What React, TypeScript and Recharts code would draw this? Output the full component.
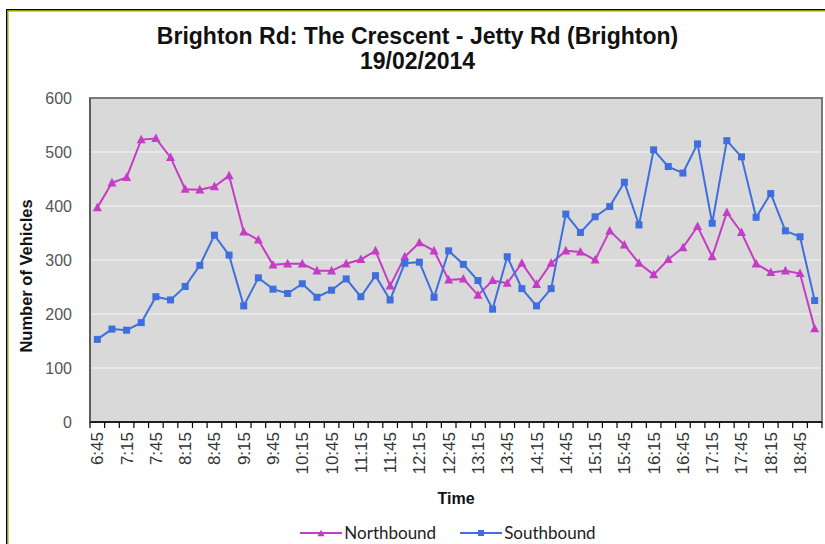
import React from 'react'
import { CartesianGrid, Label, Legend, Line, LineChart, ReferenceArea, XAxis, YAxis } from 'recharts'

const times = [
  '6:45', '7:00', '7:15', '7:30', '7:45', '8:00', '8:15', '8:30', '8:45', '9:00',
  '9:15', '9:30', '9:45', '10:00', '10:15', '10:30', '10:45', '11:00', '11:15', '11:30',
  '11:45', '12:00', '12:15', '12:30', '12:45', '13:00', '13:15', '13:30', '13:45', '14:00',
  '14:15', '14:30', '14:45', '15:00', '15:15', '15:30', '15:45', '16:00', '16:15', '16:30',
  '16:45', '17:00', '17:15', '17:30', '17:45', '18:00', '18:15', '18:30', '18:45', '19:00',
]

const northbound = [
  397, 443, 453, 523, 525, 490, 431, 430, 436, 456,
  352, 337, 291, 293, 293, 280, 280, 293, 301, 317,
  252, 306, 332, 317, 263, 265, 235, 262, 257, 294,
  255, 294, 317, 315, 300, 354, 328, 294, 273, 301,
  323, 362, 306, 388, 351, 293, 277, 280, 275, 173,
]

const southbound = [
  153, 172, 170, 184, 232, 226, 251, 290, 346, 309,
  215, 267, 246, 238, 256, 231, 244, 265, 232, 271,
  226, 294, 296, 231, 317, 292, 262, 209, 306, 247,
  215, 247, 385, 351, 380, 399, 444, 365, 504, 473,
  461, 515, 368, 521, 491, 379, 423, 354, 343, 225,
]

const yTicks = [0, 100, 200, 300, 400, 500, 600]

const data = times.map((time, i) => ({
  time,
  northbound: northbound[i],
  southbound: southbound[i],
}))

const NORTH = '#c53cc5'
const SOUTH = '#3f6fdc'
const FONT = '"Liberation Sans", Arial, sans-serif'

const Triangle = ({ cx, cy, size = 9, fill }: any) => (
  <path
    d={`M${cx},${cy - size * 0.55} L${cx + size / 2},${cy + size * 0.4} L${cx - size / 2},${cy + size * 0.4} Z`}
    fill={fill}
  />
)

const Square = ({ cx, cy, size = 7, fill }: any) => (
  <rect x={cx - size / 2} y={cy - size / 2} width={size} height={size} fill={fill} />
)

const TimeTick = (props: any) => {
  const { x, y, payload, index, width, visibleTicksCount } = props
  const count = visibleTicksCount || times.length
  const band = (width || 732) / count
  const left = x - band / 2
  return (
    <g>
      <line x1={left} y1={y} x2={left} y2={y + 6} stroke="#000" strokeWidth={1.2} />
      {index === count - 1 && (
        <line x1={x + band / 2} y1={y} x2={x + band / 2} y2={y + 6} stroke="#000" strokeWidth={1.2} />
      )}
      {index % 2 === 0 && (
        <text
          transform={`translate(${x + 6},${y + 10}) rotate(-90)`}
          textAnchor="end"
          fontSize={17}
          fontFamily={FONT}
          fill="#333"
        >
          {payload.value}
        </text>
      )}
    </g>
  )
}

const LegendContent = () => (
  <div style={{ display: 'flex', justifyContent: 'center', gap: 24, fontFamily: 'Lato, sans-serif', fontSize: 17, color: '#222' }}>
    <span style={{ display: 'flex', alignItems: 'center' }}>
      <svg width={44} height={12}>
        <line x1={0} y1={6} x2={42} y2={6} stroke={NORTH} strokeWidth={2} />
        <Triangle cx={21} cy={6.5} size={7} fill={NORTH} />
      </svg>
      Northbound
    </span>
    <span style={{ display: 'flex', alignItems: 'center' }}>
      <svg width={44} height={12}>
        <line x1={0} y1={6} x2={42} y2={6} stroke={SOUTH} strokeWidth={2} />
        <Square cx={21} cy={6} size={6} fill={SOUTH} />
      </svg>
      Southbound
    </span>
  </div>
)

export default function App() {
  return (
    <div style={{ position: 'absolute', left: 0, top: 0, width: 825, height: 544, overflow: 'hidden', background: '#fff' }}>
      <div
        style={{
          position: 'absolute', left: 6, top: 9, width: 900, height: 600,
          border: '1px solid #000', boxShadow: 'inset 0 0 0 1.5px #9c9a00',
        }}
      />
      <div
        style={{
          position: 'absolute', left: 10, top: 24, width: 815, textAlign: 'center',
          fontFamily: FONT, fontWeight: 'bold', fontSize: 23, lineHeight: '25px', color: '#111',
        }}
      >
        Brighton Rd: The Crescent - Jetty Rd (Brighton)
        <br />
        19/02/2014
      </div>
      <LineChart
        width={825}
        height={544}
        data={data}
        margin={{ top: 98, right: 3, left: 0, bottom: 0 }}
        style={{ position: 'absolute', left: 0, top: 0 }}
      >
        <CartesianGrid vertical={false} fill="#d9d9d9" stroke="#ebebeb" strokeWidth={1.5} />
        <ReferenceArea y1={0} y2={600} fill="none" stroke="#7a7a7a" strokeWidth={2} ifOverflow="visible" />
        <XAxis
          dataKey="time"
          scale="band"
          interval={0}
          tick={<TimeTick />}
          tickLine={false}
          tickSize={0}
          tickMargin={0}
          height={122}
          axisLine={{ stroke: '#000', strokeWidth: 1.5 }}
        >
          <Label
            value="Time"
            position="insideBottom"
            offset={40}
            style={{ fontFamily: FONT, fontWeight: 'bold', fontSize: 16, fill: '#111' }}
          />
        </XAxis>
        <YAxis
          domain={[0, 600]}
          ticks={yTicks}
          width={90}
          tickLine={false}
          tickSize={0}
          tickMargin={18}
          axisLine={{ stroke: '#555', strokeWidth: 1.5 }}
          tick={{ fontSize: 16, fontFamily: FONT, fill: '#555' }}
        >
          <Label
            content={({ viewBox }: any) => (
              <text
                transform={`translate(${viewBox.x + 32},${viewBox.y + viewBox.height / 2 + 16}) rotate(-90)`}
                textAnchor="middle"
                fontFamily={FONT}
                fontWeight="bold"
                fontSize={16.5}
                fill="#111"
              >
                Number of Vehicles
              </text>
            )}
          />
        </YAxis>
        <Legend
          layout="horizontal"
          verticalAlign="middle"
          align="center"
          content={<LegendContent />}
          wrapperStyle={{ top: 522, left: 82, width: 732 }}
        />
        <Line
          type="linear"
          dataKey="northbound"
          name="Northbound"
          stroke={NORTH}
          strokeWidth={2}
          dot={(p: any) => <Triangle key={`n${p.index}`} cx={p.cx} cy={p.cy} fill={NORTH} />}
          isAnimationActive={false}
        />
        <Line
          type="linear"
          dataKey="southbound"
          name="Southbound"
          stroke={SOUTH}
          strokeWidth={2}
          dot={(p: any) => <Square key={`s${p.index}`} cx={p.cx} cy={p.cy} fill={SOUTH} />}
          isAnimationActive={false}
        />
      </LineChart>
    </div>
  )
}
